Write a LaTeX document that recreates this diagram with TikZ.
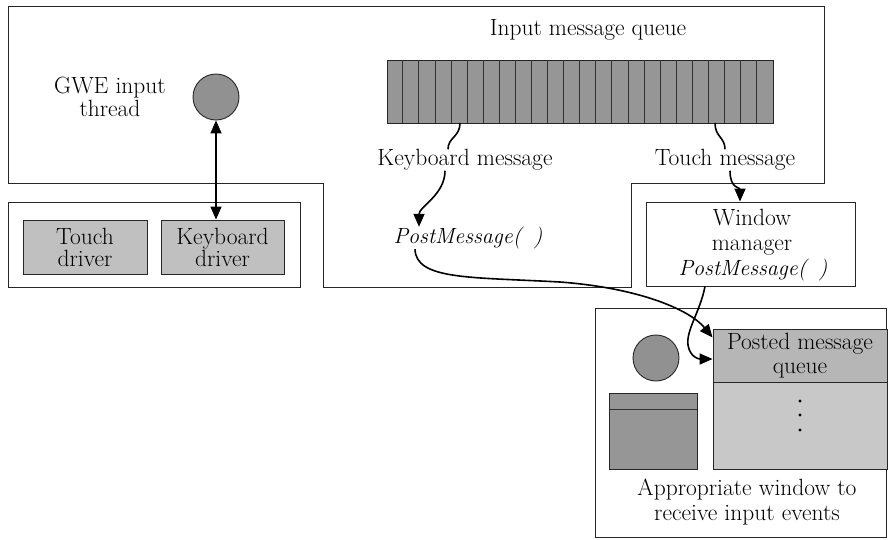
\documentclass[tikz,border=0pt]{standalone}
\usetikzlibrary{arrows.meta}
\definecolor{qfill}{RGB}{150,150,150}
\definecolor{cfill}{RGB}{145,145,145}
\definecolor{dfill}{RGB}{192,192,192}
\definecolor{ptop}{RGB}{182,182,182}
\definecolor{pbot}{RGB}{200,200,200}
\definecolor{rfill}{RGB}{150,150,150}
\begin{document}
\begin{tikzpicture}[x=1pt,y=-1pt,
  outline/.style={draw=black!85, line width=0.9pt},
  txt/.style={font=\fontsize{23.5}{24}\selectfont, inner sep=0pt, align=center},
  itxt/.style={txt, font=\fontsize{22}{24}\selectfont\itshape},
  box/.style={outline, inner sep=0pt, align=center, font=\fontsize{23.5}{24}\selectfont},
  conn/.style={line width=1.6pt},
  arr/.style={conn, -{Triangle[length=13pt,width=11pt]}},
  darr/.style={conn, {Triangle[length=13pt,width=11pt]}-{Triangle[length=13pt,width=11pt]}}]
\useasboundingbox (0,0) rectangle (889,539);
\fill[white] (0,0) rectangle (889,539);

% outer GWE region
\draw[outline] (8,6) -- (824,6) -- (824,183) -- (631,183) -- (631,287) -- (323,287) -- (323,183) -- (8,183) -- cycle;

% drivers
\node[box, minimum width=292pt, minimum height=85pt] (drivers) at (154,244.5) {};
\node[box, fill=dfill, minimum width=124pt, minimum height=54pt] (touchd) at (85,247) {Touch\\[-2pt]driver};
\node[box, fill=dfill, minimum width=123pt, minimum height=54pt] (kbd) at (222.5,247) {Keyboard\\[-2pt]driver};

% GWE thread
\node[txt] (gwelbl) at (110,97) {GWE input\\[-1pt]thread};
\node[outline, circle, fill=cfill, minimum size=46pt, inner sep=0pt] (gwe) at (216,97) {};

% input queue
\node[txt] (iqlbl) at (588,30) {Input message queue};
\node[outline, fill=qfill, minimum width=386pt, minimum height=63pt, inner sep=0pt] (queue) at (580,91.5) {};
\foreach \i in {1,...,23}
  \draw[black!80, line width=0.6pt] ([xshift=\i*16.083pt]queue.north west) -- ([xshift=\i*16.083pt]queue.south west);

\node[txt] (kmsg) at (465,160) {Keyboard message};
\node[txt] (tmsg) at (725,160) {Touch message};
\node[itxt] (pm1) at (468,238) {PostMessage(\hspace{12pt})};

% window manager
\node[box, fill=white, minimum width=209pt, minimum height=84pt] (wm) at (750.5,244) {};
\node[txt] (wmlbl) at (752,232) {Window\\[1pt]manager};
\node[itxt] (pm2) at (753,270) {PostMessage(\hspace{12pt})};

% receiving window
\node[box, minimum width=291pt, minimum height=229pt] (win) at (740.5,422.5) {};
\node[box, fill=ptop, minimum width=174pt, minimum height=53pt] (pqtop) at (800,355.5) {Posted message\\[0pt]queue};
\node[box, fill=pbot, minimum width=174pt, minimum height=87pt] (pqbot) at (800,425.5) {};
\foreach \yy in {401,415,430} \fill (800,\yy) circle (1.6pt);
\node[outline, circle, fill=cfill, minimum size=46pt, inner sep=0pt] (wcirc) at (656,358) {};
\node[box, fill=rfill, minimum width=88pt, minimum height=76pt] (drect) at (653,431) {};
\draw[black!80, line width=0.8pt] ([yshift=-17pt]drect.north west) -- ([yshift=-17pt]drect.north east);
\node[txt] (winlbl) at (747,502) {Appropriate window to\\[1pt]receive input events};

% connectors
\coordinate (q1) at (460,123);
\coordinate (q2) at (715,123);
\draw[darr] (gwe.south) -- (gwe.south |- kbd.north);
\draw[conn] (q1) .. controls +(0,14) and +(0,-12) .. ([xshift=-17pt]kmsg.north);
\draw[arr] ([xshift=-20pt]kmsg.south) .. controls +(0,24) and +(0,-20) .. ([xshift=-49pt]pm1.north);
\draw[conn] (q2) .. controls +(0,14) and +(0,-12) .. (tmsg.north);
\draw[arr] ([xshift=5pt]tmsg.south) .. controls +(0,18) and +(0,-14) .. ([xshift=-10.5pt]wm.north);
\draw[arr] ([xshift=-53pt]pm1.south) .. controls (416,280) and (470,277) .. (560,282)
   .. controls (640,288) and (690,310) .. ([yshift=18pt]pqtop.west);
\draw[arr] ([xshift=-45.5pt]wm.south) .. controls (700,312) and (686,330) .. (688,345)
   .. controls (690,358) and (700,359) .. ([yshift=-3.5pt]pqtop.west);
\end{tikzpicture}
\end{document}
